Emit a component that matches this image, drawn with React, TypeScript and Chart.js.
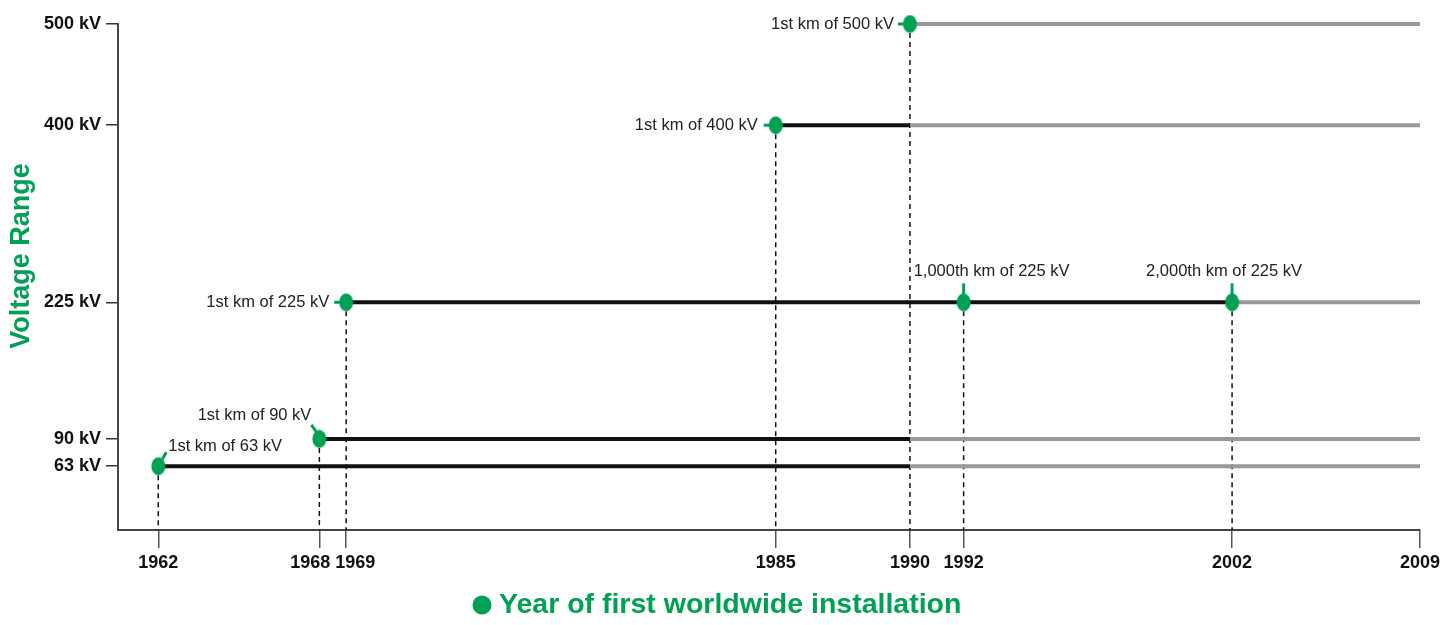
import { useEffect, useRef } from 'react';
import { Chart, registerables } from 'chart.js';

Chart.register(...registerables);

// ---- data ----
const voltageLevels = [63, 90, 225, 400, 500];
const firstYears = [1962, 1968, 1969, 1985, 1990];
const blackEndYears = [1990, 1990, 2002, 1990, 1990];
const lastYear = 2009;

const milestoneYears = [1962, 1968, 1969, 1985, 1990, 1992, 2002];
const milestoneVoltages = [63, 90, 225, 400, 500, 225, 225];
const milestoneLabels = [
  '1st km of 63 kV',
  '1st km of 90 kV',
  '1st km of 225 kV',
  '1st km of 400 kV',
  '1st km of 500 kV',
  '1,000th km of 225 kV',
  '2,000th km of 225 kV',
];

const xTickYears = [1962, 1968, 1969, 1985, 1990, 1992, 2002, 2009];
const yTickValues = [63, 90, 225, 400, 500];
const yTitle = 'Voltage Range';
const legendText = 'Year of first worldwide installation';

// ---- styles ----
const GREEN = '#00A055';
const BLACK = '#111111';
const GRAY = '#999999';
const AXIS = '#444444';
const SANS = '"Liberation Sans", Arial, sans-serif';

// label placement relative to each milestone point (pixels)
const labelLayout = [
  { dx: 10, dy: -20, align: 'left', leader: [4, -7, 8, -14] },
  { dx: -8, dy: -23, align: 'right', leader: [-3, -7, -8, -14] },
  { dx: -17, dy: 0, align: 'right', leader: [-6, 0, -12, 0] },
  { dx: -18, dy: 0, align: 'right', leader: [-6, 0, -12, 0] },
  { dx: -16, dy: 0, align: 'right', leader: [-6, 0, -12, 0] },
  { dx: -50, dy: -31, align: 'left', leader: [0, -8, 0, -19] },
  { dx: -86, dy: -31, align: 'left', leader: [0, -8, 0, -19] },
];

function makeEllipse(): HTMLCanvasElement {
  const c = document.createElement('canvas');
  c.width = 15;
  c.height = 19;
  const ctx = c.getContext('2d')!;
  ctx.fillStyle = GREEN;
  ctx.beginPath();
  ctx.ellipse(7.5, 9.5, 7, 9, 0, 0, Math.PI * 2);
  ctx.fill();
  return c;
}

// pushes apart x-axis tick labels that would overlap
const tickSpreadPlugin = {
  id: 'tickSpread',
  beforeDraw(chart: any) {
    const scale = chart.scales.x;
    const items = scale.getLabelItems(chart.chartArea);
    const ctx = chart.ctx;
    ctx.save();
    for (let pass = 0; pass < 3; pass++) {
      for (let i = 0; i < items.length - 1; i++) {
        const a = items[i];
        const b = items[i + 1];
        ctx.font = a.font.string;
        const wa = ctx.measureText(String(a.label)).width;
        ctx.font = b.font.string;
        const wb = ctx.measureText(String(b.label)).width;
        const need = (wa + wb) / 2 + 5;
        const gap = b.options.translation[0] - a.options.translation[0];
        if (gap < need) {
          const d = (need - gap) / 2;
          a.options.translation[0] -= d;
          b.options.translation[0] += d;
        }
      }
    }
    ctx.restore();
  },
};

const annotationPlugin = {
  id: 'annotations',
  beforeDatasetsDraw(chart: any) {
    const { ctx, scales } = chart;
    ctx.save();
    ctx.strokeStyle = GREEN;
    ctx.lineWidth = 3;
    ctx.lineCap = 'butt';
    milestoneYears.forEach((yr, i) => {
      const px = scales.x.getPixelForValue(yr);
      const py = scales.y.getPixelForValue(milestoneVoltages[i]);
      const l = labelLayout[i].leader;
      ctx.beginPath();
      ctx.moveTo(px + l[0], py + l[1]);
      ctx.lineTo(px + l[2], py + l[3]);
      ctx.stroke();
    });
    ctx.restore();
  },
  afterDatasetsDraw(chart: any) {
    const { ctx, scales } = chart;
    ctx.save();
    ctx.fillStyle = '#222';
    ctx.font = `16.5px ${SANS}`;
    ctx.textBaseline = 'middle';
    milestoneYears.forEach((yr, i) => {
      const px = scales.x.getPixelForValue(yr);
      const py = scales.y.getPixelForValue(milestoneVoltages[i]);
      const lay = labelLayout[i];
      ctx.textAlign = lay.align;
      ctx.fillText(milestoneLabels[i], px + lay.dx, py + lay.dy);
    });
    ctx.restore();
  },
  afterDraw(chart: any) {
    const { ctx } = chart;
    ctx.save();
    // y title
    ctx.fillStyle = GREEN;
    ctx.font = `bold 27px ${SANS}`;
    ctx.textAlign = 'center';
    ctx.textBaseline = 'middle';
    ctx.translate(22, 256);
    ctx.rotate(-Math.PI / 2);
    ctx.fillText(yTitle, 0, 0);
    ctx.restore();
    // legend
    ctx.save();
    ctx.fillStyle = GREEN;
    ctx.beginPath();
    ctx.arc(482, 605, 9.5, 0, Math.PI * 2);
    ctx.fill();
    ctx.font = `bold 28.5px ${SANS}`;
    ctx.textAlign = 'left';
    ctx.textBaseline = 'middle';
    ctx.fillText(legendText, 499, 605);
    ctx.restore();
  },
};

export default function App() {
  const ref = useRef<HTMLCanvasElement | null>(null);

  useEffect(() => {
    if (!ref.current) return;
    const dot = makeEllipse();

    const blackSets = voltageLevels.map((v, i) => ({
      type: 'line',
      label: `black-${v}`,
      data: [
        { x: firstYears[i], y: v },
        { x: blackEndYears[i], y: v },
      ],
      borderColor: BLACK,
      borderWidth: 4,
      pointRadius: 0,
      order: 1,
      clip: false,
    }));
    const graySets = voltageLevels.map((v, i) => ({
      type: 'line',
      label: `gray-${v}`,
      data: [
        { x: blackEndYears[i], y: v },
        { x: lastYear, y: v },
      ],
      borderColor: GRAY,
      borderWidth: 4,
      pointRadius: 0,
      order: 2,
      clip: false,
    }));
    const dashSets = milestoneYears.map((yr, i) => ({
      type: 'line',
      label: `dash-${i}`,
      data: [
        { x: yr, y: milestoneVoltages[i] },
        { x: yr, y: 0 },
      ],
      borderColor: BLACK,
      borderWidth: 1.5,
      borderDash: [5, 4],
      pointRadius: 0,
      order: 3,
      clip: false,
    }));
    const pointSet = {
      type: 'scatter',
      label: legendText,
      data: milestoneYears.map((yr, i) => ({ x: yr, y: milestoneVoltages[i] })),
      pointStyle: dot,
      backgroundColor: GREEN,
      borderColor: GREEN,
      order: 0,
      clip: false,
    };

    const chart = new Chart(ref.current, {
      type: 'line',
      data: { datasets: [pointSet, ...blackSets, ...graySets, ...dashSets] as any },
      options: {
        animation: false,
        responsive: true,
        maintainAspectRatio: false,
        layout: { padding: { left: 0, right: 33, top: 24, bottom: 0 } },
        plugins: { legend: { display: false }, tooltip: { enabled: false } },
        scales: {
          x: {
            type: 'linear',
            min: 1960.5,
            max: 2009,
            afterBuildTicks: (scale: any) => {
              scale.ticks = xTickYears.map((v) => ({ value: v }));
            },
            afterFit: (scale: any) => {
              scale.height = 95;
            },
            ticks: {
              autoSkip: false,
              maxRotation: 0,
              padding: 4,
              color: '#111',
              font: { family: SANS, size: 18, weight: 'bold' },
              callback: (v: any) => String(v),
            },
            grid: {
              drawOnChartArea: false,
              drawTicks: true,
              tickLength: 18,
              color: '#555',
              lineWidth: 1.5,
            },
            border: { display: true, color: AXIS, width: 2 },
          },
          y: {
            type: 'linear',
            min: 0,
            max: 500,
            afterBuildTicks: (scale: any) => {
              scale.ticks = yTickValues.map((v) => ({ value: v }));
            },
            afterFit: (scale: any) => {
              scale.width = 118;
            },
            ticks: {
              autoSkip: false,
              padding: 5,
              color: '#111',
              font: { family: SANS, size: 18, weight: 'bold' },
              callback: (v: any) => `${v} kV`,
            },
            grid: {
              drawOnChartArea: false,
              drawTicks: true,
              tickLength: 12,
              color: '#333',
              lineWidth: 1.5,
            },
            border: { display: true, color: AXIS, width: 2 },
          },
        },
      } as any,
      plugins: [tickSpreadPlugin, annotationPlugin],
    });
    return () => chart.destroy();
  }, []);

  return (
    <div style={{ position: 'absolute', left: 0, top: 0, width: 1453, height: 625 }}>
      <canvas ref={ref} />
    </div>
  );
}
